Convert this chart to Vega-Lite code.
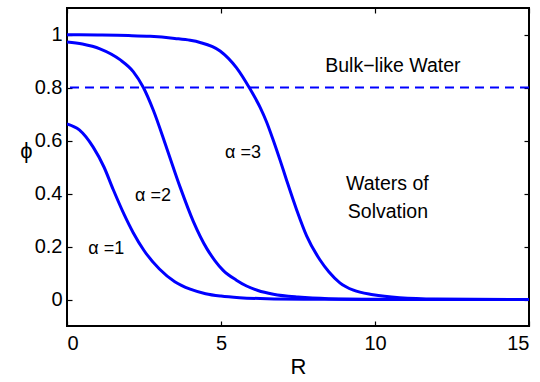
{
  "$schema": "https://vega.github.io/schema/vega-lite/v6.json",
  "width": 462,
  "height": 318,
  "autosize": {"type": "none"},
  "padding": {"left": 67, "top": 8, "right": 11, "bottom": 56},
  "background": "white",
  "config": {
    "view": {"stroke": "black", "strokeWidth": 2},
    "font": "Liberation Sans",
    "axis": {
      "domain": false,
      "grid": false,
      "tickColor": "black",
      "tickWidth": 1.2,
      "tickSize": -5,
      "labelColor": "black",
      "labelFont": "Liberation Sans",
      "labelFontSize": 20,
      "titleFont": "Liberation Sans",
      "titleFontSize": 22,
      "titleFontWeight": "normal",
      "titleColor": "black"
    }
  },
  "datasets": {
    "curves": [
      {"R": 0, "phi": 0.663, "alpha": "1"},
      {"R": 0.4, "phi": 0.64, "alpha": "1"},
      {"R": 0.85, "phi": 0.575, "alpha": "1"},
      {"R": 1.2, "phi": 0.5, "alpha": "1"},
      {"R": 1.5, "phi": 0.415, "alpha": "1"},
      {"R": 1.85, "phi": 0.322, "alpha": "1"},
      {"R": 2.15, "phi": 0.252, "alpha": "1"},
      {"R": 2.5, "phi": 0.185, "alpha": "1"},
      {"R": 3.0, "phi": 0.115, "alpha": "1"},
      {"R": 3.5, "phi": 0.067, "alpha": "1"},
      {"R": 4.0, "phi": 0.039, "alpha": "1"},
      {"R": 4.5, "phi": 0.022, "alpha": "1"},
      {"R": 5.0, "phi": 0.013, "alpha": "1"},
      {"R": 5.6, "phi": 0.007, "alpha": "1"},
      {"R": 6.5, "phi": 0.003, "alpha": "1"},
      {"R": 8, "phi": 0.001, "alpha": "1"},
      {"R": 10, "phi": 0.0, "alpha": "1"},
      {"R": 15, "phi": 0.0, "alpha": "1"},
      {"R": 0, "phi": 0.972, "alpha": "2"},
      {"R": 0.5, "phi": 0.964, "alpha": "2"},
      {"R": 1.07, "phi": 0.946, "alpha": "2"},
      {"R": 1.72, "phi": 0.905, "alpha": "2"},
      {"R": 2.15, "phi": 0.86, "alpha": "2"},
      {"R": 2.48, "phi": 0.8, "alpha": "2"},
      {"R": 2.8, "phi": 0.715, "alpha": "2"},
      {"R": 3.24, "phi": 0.57, "alpha": "2"},
      {"R": 3.67, "phi": 0.425, "alpha": "2"},
      {"R": 4.1, "phi": 0.295, "alpha": "2"},
      {"R": 4.54, "phi": 0.192, "alpha": "2"},
      {"R": 4.8, "phi": 0.147, "alpha": "2"},
      {"R": 5.07, "phi": 0.11, "alpha": "2"},
      {"R": 5.5, "phi": 0.073, "alpha": "2"},
      {"R": 5.83, "phi": 0.051, "alpha": "2"},
      {"R": 6.2, "phi": 0.034, "alpha": "2"},
      {"R": 6.7, "phi": 0.02, "alpha": "2"},
      {"R": 7.5, "phi": 0.009, "alpha": "2"},
      {"R": 8.5, "phi": 0.003, "alpha": "2"},
      {"R": 10, "phi": 0.001, "alpha": "2"},
      {"R": 15, "phi": 0.0, "alpha": "2"},
      {"R": 0, "phi": 0.999, "alpha": "3"},
      {"R": 1, "phi": 0.998, "alpha": "3"},
      {"R": 2, "phi": 0.996, "alpha": "3"},
      {"R": 2.7, "phi": 0.993, "alpha": "3"},
      {"R": 3.5, "phi": 0.985, "alpha": "3"},
      {"R": 4.0, "phi": 0.978, "alpha": "3"},
      {"R": 4.32, "phi": 0.97, "alpha": "3"},
      {"R": 4.97, "phi": 0.938, "alpha": "3"},
      {"R": 5.5, "phi": 0.875, "alpha": "3"},
      {"R": 5.94, "phi": 0.795, "alpha": "3"},
      {"R": 6.27, "phi": 0.725, "alpha": "3"},
      {"R": 6.48, "phi": 0.67, "alpha": "3"},
      {"R": 6.7, "phi": 0.6, "alpha": "3"},
      {"R": 6.92, "phi": 0.525, "alpha": "3"},
      {"R": 7.13, "phi": 0.45, "alpha": "3"},
      {"R": 7.46, "phi": 0.337, "alpha": "3"},
      {"R": 7.78, "phi": 0.24, "alpha": "3"},
      {"R": 8.21, "phi": 0.15, "alpha": "3"},
      {"R": 8.5, "phi": 0.105, "alpha": "3"},
      {"R": 8.86, "phi": 0.063, "alpha": "3"},
      {"R": 9.3, "phi": 0.035, "alpha": "3"},
      {"R": 9.94, "phi": 0.018, "alpha": "3"},
      {"R": 10.8, "phi": 0.007, "alpha": "3"},
      {"R": 12, "phi": 0.002, "alpha": "3"},
      {"R": 15, "phi": 0.0, "alpha": "3"}
    ],
    "threshold": [{"phi": 0.8}],
    "bigLabels": [
      {"R": 10.58, "phi": 0.859, "label": "Bulk−like Water"},
      {"R": 10.4, "phi": 0.413, "label": "Waters of"},
      {"R": 10.42, "phi": 0.308, "label": "Solvation"}
    ],
    "alphaLabels": [
      {"R": 5.13, "phi": 0.535, "label": "α =3"},
      {"R": 2.21, "phi": 0.371, "label": "α =2"},
      {"R": 0.69, "phi": 0.173, "label": "α =1"}
    ]
  },
  "resolve": {"axis": {"x": "independent", "y": "independent"}},
  "layer": [
    {
      "data": {"name": "curves"},
      "mark": {"type": "line", "color": "#0000FF", "strokeWidth": 3, "interpolate": "monotone", "clip": true},
      "encoding": {
        "x": {
          "field": "R", "type": "quantitative",
          "scale": {"domain": [0, 15], "nice": false, "zero": false},
          "axis": {"orient": "bottom", "values": [0, 5, 10, 15], "title": "R", "labelPadding": 12, "titleY": 47, "titleBaseline": "alphabetic"}
        },
        "y": {
          "field": "phi", "type": "quantitative",
          "scale": {"domain": [-0.1, 1.1], "nice": false, "zero": false},
          "axis": {"orient": "left", "values": [0, 0.2, 0.4, 0.6, 0.8, 1], "format": "~g", "title": "ϕ", "titleAngle": 0, "titleX": -41, "titleY": 142, "titleBaseline": "middle", "titleAlign": "center", "labelPadding": 10}
        },
        "detail": {"field": "alpha"}
      }
    },
    {
      "data": {"name": "threshold"},
      "mark": {"type": "rule", "color": "#0000FF", "strokeWidth": 2.2, "strokeDash": [9, 6]},
      "encoding": {
        "y": {
          "field": "phi", "type": "quantitative",
          "scale": {"domain": [-0.1, 1.1], "nice": false, "zero": false},
          "axis": {"orient": "right", "values": [0, 0.2, 0.4, 0.6, 0.8, 1], "labels": false, "title": null}
        }
      }
    },
    {
      "data": {"name": "threshold"},
      "mark": {"type": "point", "opacity": 0},
      "encoding": {
        "x": {
          "datum": 0, "type": "quantitative",
          "scale": {"domain": [0, 15], "nice": false, "zero": false},
          "axis": {"orient": "top", "values": [0, 5, 10, 15], "labels": false, "title": null}
        },
        "y": {"field": "phi", "type": "quantitative", "axis": null}
      }
    },
    {
      "data": {"name": "bigLabels"},
      "mark": {"type": "text", "fontSize": 19.5, "align": "center", "baseline": "alphabetic", "color": "black", "font": "Liberation Sans"},
      "encoding": {
        "x": {"field": "R", "type": "quantitative", "axis": null},
        "y": {"field": "phi", "type": "quantitative", "axis": null},
        "text": {"field": "label"}
      }
    },
    {
      "data": {"name": "alphaLabels"},
      "mark": {"type": "text", "fontSize": 18, "align": "left", "baseline": "alphabetic", "color": "black", "font": "Liberation Sans"},
      "encoding": {
        "x": {"field": "R", "type": "quantitative", "axis": null},
        "y": {"field": "phi", "type": "quantitative", "axis": null},
        "text": {"field": "label"}
      }
    }
  ]
}
